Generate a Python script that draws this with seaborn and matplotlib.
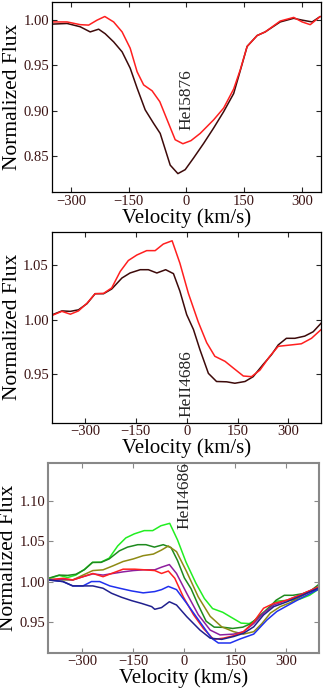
import numpy as np
import pandas as pd
import matplotlib
matplotlib.use("Agg")
import matplotlib.pyplot as plt
import seaborn as sns

# ---------------- data ----------------
# Panel 1: HeI 5876
p1_dark_v = [-349, -310, -276, -250, -228, -211, -189, -167, -146, -128, -107, -85, -68, -42, -22, -3, 19, 45, 71, 97, 123, 140, 158, 184, 205, 244, 279, 301, 327, 348]
p1_dark_f = [0.9956, 0.9963, 0.9927, 0.987, 0.990, 0.985, 0.976, 0.965, 0.947, 0.925, 0.901, 0.886, 0.875, 0.840, 0.8306, 0.835, 0.848, 0.864, 0.881, 0.899, 0.919, 0.944, 0.971, 0.983, 0.987, 0.998, 1.002, 1.000, 0.998, 1.004]
p1_red_v = [-349, -310, -276, -254, -232, -212, -189, -167, -146, -128, -111, -89, -69, -50, -29, -9, 12, 36, 71, 97, 123, 140, 158, 184, 205, 244, 279, 301, 322, 348]
p1_red_f = [0.998, 0.998, 0.995, 0.9945, 1.000, 1.004, 0.998, 0.987, 0.969, 0.943, 0.9285, 0.922, 0.910, 0.890, 0.868, 0.8636, 0.867, 0.875, 0.890, 0.903, 0.924, 0.945, 0.971, 0.983, 0.987, 0.999, 1.003, 0.998, 0.995, 1.004]

# Panel 2 (and panel 3 greens): HeII 4686
p2_dark_v = [-400, -368, -343, -319, -294, -270, -245, -221, -191, -167, -137, -113, -88, -62, -39, -20, 0, 20, 39, 64, 88, 118, 142, 172, 196, 225, 250, 270, 294, 319, 348, 373, 400]
p2_dark_f = [1.004, 1.008, 1.0076, 1.009, 1.0146, 1.0237, 1.0237, 1.028, 1.038, 1.0426, 1.0456, 1.0456, 1.0426, 1.0456, 1.042, 1.026, 1.0046, 0.991, 0.9727, 0.951, 0.9436, 0.9433, 0.942, 0.9436, 0.948, 0.959, 0.968, 0.977, 0.983, 0.983, 0.985, 0.989, 0.998]
p2_red_v = [-400, -368, -343, -319, -294, -270, -245, -221, -196, -172, -147, -118, -93, -69, -43, -20, 5, 34, 59, 83, 113, 137, 167, 191, 216, 245, 270, 309, 338, 368, 400]
p2_red_f = [1.0035, 1.0076, 1.005, 1.008, 1.015, 1.0237, 1.024, 1.029, 1.044, 1.054, 1.059, 1.063, 1.063, 1.069, 1.072, 1.0515, 1.024, 0.998, 0.979, 0.9666, 0.962, 0.956, 0.9486, 0.948, 0.954, 0.9666, 0.9757, 0.977, 0.978, 0.983, 0.992]

# Panel 3 extra series
p3_olive_v = [-400, -357, -328, -298, -269, -239, -210, -180, -150, -121, -91, -67, -47, -23, 7, 41, 76, 110, 145, 174, 204, 228, 253, 282, 312, 341, 371, 400]
p3_olive_f = [1.003, 1.002, 1.002, 1.008, 1.0136, 1.0145, 1.0194, 1.0248, 1.028, 1.032, 1.034, 1.039, 1.044, 1.037, 1.012, 0.981, 0.957, 0.944, 0.938, 0.935, 0.938, 0.948, 0.961, 0.969, 0.974, 0.981, 0.9876, 0.991]
p3_purple_v = [-400, -357, -328, -298, -269, -239, -210, -180, -150, -121, -87, -67, -44, -23, 7, 41, 76, 105, 145, 174, 204, 233, 263, 302, 341, 400]
p3_purple_f = [1.002, 1.003, 1.002, 1.006, 1.0095, 1.008, 1.010, 1.012, 1.0136, 1.0145, 1.0145, 1.0178, 1.021, 1.010, 0.9855, 0.959, 0.940, 0.934, 0.935, 0.938, 0.948, 0.961, 0.971, 0.977, 0.9835, 0.994]
p3_red_v = [-400, -357, -328, -298, -269, -239, -214, -180, -146, -116, -87, -67, -47, -28, -3, 27, 56, 86, 115, 145, 174, 204, 233, 263, 302, 341, 400]
p3_red_f = [1.002, 1.004, 1.002, 1.006, 1.010, 1.006, 1.010, 1.0153, 1.0153, 1.0145, 1.0136, 1.010, 1.013, 1.004, 0.981, 0.959, 0.942, 0.9285, 0.930, 0.933, 0.938, 0.950, 0.967, 0.973, 0.977, 0.9835, 0.9946]
p3_blue_v = [-400, -357, -328, -298, -273, -249, -219, -190, -155, -121, -87, -67, -47, -23, 7, 46, 80, 100, 135, 164, 204, 243, 272, 302, 341, 400]
p3_blue_f = [1.002, 1.000, 0.9946, 0.9946, 1.000, 1.000, 0.9946, 0.9917, 0.9884, 0.986, 0.9876, 0.990, 0.994, 0.990, 0.973, 0.950, 0.930, 0.924, 0.924, 0.929, 0.935, 0.9525, 0.963, 0.970, 0.979, 0.9917]
p3_navy_v = [-400, -357, -328, -298, -269, -239, -214, -185, -155, -126, -96, -87, -67, -44, -23, 7, 46, 76, 110, 145, 174, 204, 233, 263, 302, 341, 400]
p3_navy_f = [1.002, 1.000, 0.9946, 0.9946, 0.9946, 0.9917, 0.9855, 0.9806, 0.9764, 0.973, 0.969, 0.9657, 0.9678, 0.975, 0.971, 0.9566, 0.940, 0.930, 0.9285, 0.932, 0.936, 0.944, 0.9587, 0.969, 0.975, 0.982, 0.993]

line_labels = ["HeI5876", "HeII4686", "HeII4686"]
xticks = [-300, -150, 0, 150, 300]
yticks1 = [0.85, 0.90, 0.95, 1.00]
yticks2 = [0.95, 1.00, 1.05]
yticks3 = [0.95, 1.00, 1.05, 1.10]

# ---------------- style ----------------
sns.set_style("ticks")
plt.rcParams["font.family"] = ["Liberation Serif", "DejaVu Serif"]
TICKCOL = "#3a1212"

fig = plt.figure(figsize=(3.24, 6.93), dpi=100)
W, H = 324.0, 693.0
def add_ax(l, r, t, b):
    return fig.add_axes([l / W, 1 - b / H, (r - l) / W, (b - t) / H])

ax1 = add_ax(51.7, 321, 2, 192.3)
ax2 = add_ax(51.7, 321, 232, 422.7)
ax3 = add_ax(48.3, 319, 462.7, 652.7)

DARK = "#3d0a0a"
RED = "#ff1f1f"
LW = 1.1

def draw(ax, v, f, color):
    df = pd.DataFrame({"v": v, "f": f})
    sns.lineplot(data=df, x="v", y="f", ax=ax, color=color, lw=LW, estimator=None, sort=False)

draw(ax1, p1_dark_v, p1_dark_f, DARK)
draw(ax1, p1_red_v, p1_red_f, RED)
draw(ax2, p2_dark_v, p2_dark_f, DARK)
draw(ax2, p2_red_v, p2_red_f, RED)

draw(ax3, p2_red_v, p2_red_f, "#22ee22")
draw(ax3, p2_dark_v, p2_dark_f, "#1e8a1e")
draw(ax3, p3_olive_v, p3_olive_f, "#8e8a14")
draw(ax3, p3_purple_v, p3_purple_f, "#8e1e9e")
draw(ax3, p3_red_v, p3_red_f, "#ff2020")
draw(ax3, p3_blue_v, p3_blue_f, "#2030ee")
draw(ax3, p3_navy_v, p3_navy_f, "#20208e")

ax1.set_xlim(-350, 350); ax1.set_ylim(0.81, 1.02)
ax2.set_xlim(-398, 396); ax2.set_ylim(0.906, 1.080)
ax3.set_xlim(-400, 396); ax3.set_ylim(0.912, 1.147)

for ax, yt in [(ax1, yticks1), (ax2, yticks2), (ax3, yticks3)]:
    ax.set_xticks(xticks)
    ax.set_yticks(yt)
    ax.set_yticklabels([f"{y:.2f}" for y in yt])
    ax.tick_params(direction="in", top=True, right=True, length=3.5, width=0.8,
                   labelsize=10.5, labelcolor=TICKCOL, pad=2)
    ax.set_xlabel("Velocity (km/s)", fontsize=15, labelpad=0, color="black")
    ax.set_ylabel("Normalized Flux", fontsize=15.5, labelpad=1, color="black")
    for s in ax.spines.values():
        s.set_linewidth(0.9)
        s.set_color("black")

for s in ax3.spines.values():
    s.set_color("#888888")
    s.set_linewidth(1.5)
ax3.tick_params(color="#888888")

ax1.text(0, 0.912, line_labels[0], rotation=90, ha="center", va="center", fontsize=12.5)
ax2.text(0, 0.942, line_labels[1], rotation=90, ha="center", va="center", fontsize=12.5)
ax3.text(0, 1.106, line_labels[2], rotation=90, ha="center", va="center", fontsize=12.5)

fig.savefig("out.png", dpi=100)
